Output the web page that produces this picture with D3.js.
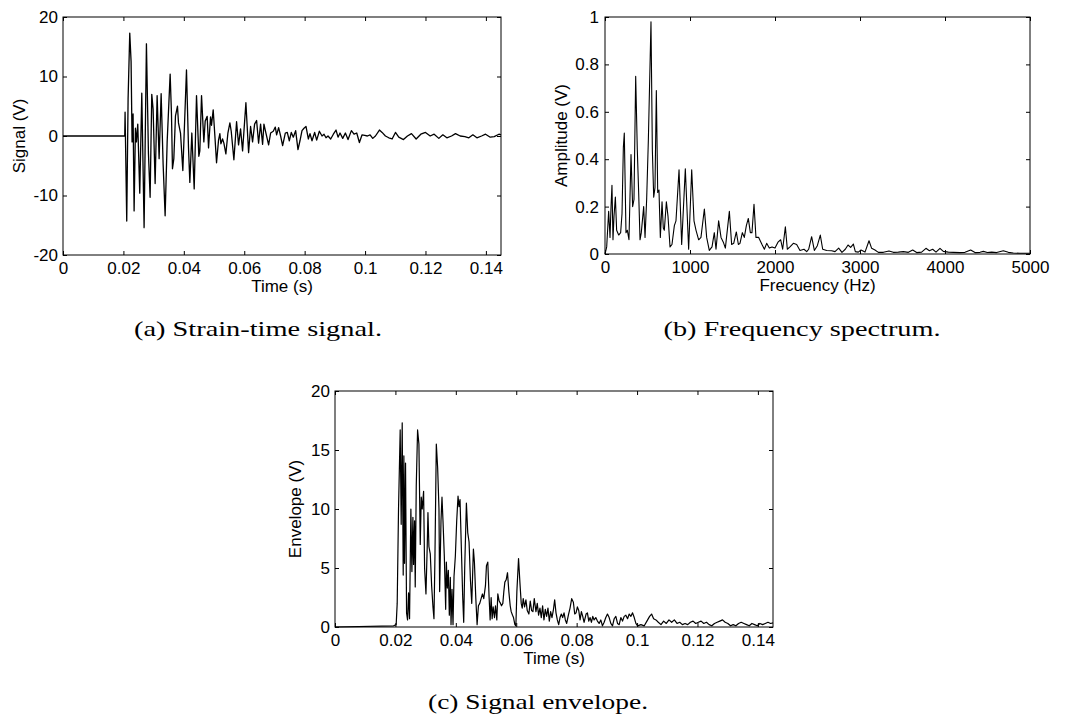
<!DOCTYPE html>
<html>
<head>
<meta charset="utf-8">
<script src="https://cdn.jsdelivr.net/npm/d3@7"></script>
<style>
  body { margin: 0; background: #fff; }
  svg { display: block; }
  .tick text { font-family: "Liberation Sans", Arial, sans-serif; font-size: 17px; fill: #000; }
  .tick line { stroke: #000; }
  .axis-label { font-family: "Liberation Sans", Arial, sans-serif; font-size: 17px; fill: #000; }
  .caption { font-family: "Liberation Serif", "DejaVu Serif", serif; font-size: 22px; fill: #000; }
</style>
</head>
<body>
<svg id="chart" width="1076" height="722"></svg>
<script>
// (a) strain-time signal, time in ms, volts
const sigTimeMs = [
  0, 20.44, 20.55, 21.10, 21.55, 22.10, 22.54, 22.87, 23.20, 23.54,
  23.98, 24.31, 24.75, 25.41, 26.08, 26.85, 27.62, 28.29, 28.84, 29.39,
  29.83, 30.50, 31.16, 31.82, 32.49, 33.15, 33.81, 34.48, 35.47, 35.91,
  36.24, 36.69, 37.24, 37.90, 38.23, 38.90, 39.67, 40.88, 41.55, 41.99,
  42.65, 43.43, 44.20, 44.97, 45.30, 45.86, 46.63, 47.07, 47.73, 48.18,
  48.84, 49.17, 49.72, 50.28, 50.83, 51.49, 51.93, 52.27, 52.82, 53.26,
  53.92, 54.59, 55.25, 55.69, 56.57, 57.46, 58.12, 58.78, 59.45, 60.55,
  61.44, 62.10, 62.76, 63.43, 64.09, 64.75, 65.41, 66.08, 66.52, 67.18,
  68.07, 68.73, 69.61, 70.28, 70.72, 71.38, 72.04, 72.71, 73.59, 74.25,
  74.92, 75.58, 76.24, 77.02, 77.79, 78.45, 79.12, 79.78, 80.44, 81.22,
  81.77, 82.43, 83.31, 83.98, 84.86, 85.75, 86.41, 87.07, 87.73, 88.62,
  89.50, 90.39, 91.05, 91.71, 92.60, 93.48, 94.36, 95.47, 96.35, 97.24,
  98.12, 99.01, 99.89, 100.77, 101.66, 102.54, 103.43, 104.75, 105.64, 106.74,
  107.85, 108.95, 110.06, 111.16, 112.71, 114.03, 115.36, 116.91, 118.45, 120.00,
  121.55, 122.87, 124.42, 125.75, 127.07, 128.62, 129.94, 131.49, 133.04, 134.36,
  135.69, 137.02, 138.56, 139.89, 141.44, 142.76, 144.31, 145.00
];
const sigVolts = [
  0, 0, 4.0, -14.3, 6.2, 17.3, 12.5, -1.0, 3.7, -12.6,
  1.3, -1.0, 2.0, -9.6, 7.2, -15.4, 15.5, -3.0, -10.3, 7.0,
  4.5, -8.0, 6.8, -3.8, 7.1, -4.8, -13.4, -1.0, 10.4, 3.7,
  -5.5, -3.8, 3.4, 5.0, 2.2, 0.5, -5.8, 11.1, -2.0, -7.8,
  0.5, -8.9, 6.8, -3.4, -2.5, 6.8, -1.0, 2.5, 3.3, -2.0,
  3.2, 1.8, 4.4, 0, -4.5, -0.7, 0.4, -1.3, -0.5, -1.2,
  -3.0, 0.5, 2.2, 0.8, -4.0, 2.4, -1.5, 1.2, -2.5, 5.6,
  -2.8, 1.6, -1.0, 2.0, 2.6, -1.2, 2.0, -1.4, 2.0, 0.5,
  -1.5, 0.5, 0.8, 1.5, 0.2, 1.4, 0, -1.6, 0.5, 0.6,
  -0.8, 0.6, -0.2, 0.9, -2.3, -0.8, 0.9, 1.3, 1.6, -0.5,
  0.4, -0.8, 0.6, -0.7, 0.8, 0, 0.3, -0.3, 0, -0.5,
  0.3, 1.0, -0.2, 0.5, -0.4, 0.5, -0.6, 0.9, 0.3, 0.5,
  -1.1, 0.2, 0.1, 0, 0.2, -0.4, 0, 1.0, 0.6, 0,
  -0.3, -0.5, 0.6, -0.2, -0.6, 0, 0.4, -0.5, 0.3, 0.6,
  0, 0.3, -0.4, 0.2, -0.3, 0, 0.4, 0, -0.1, -0.3,
  0.2, -0.3, 0, 0.3, -0.2, -0.1, 0.3, 0.2
];

// (b) frequency spectrum
const specHz = [
  0, 20, 43, 59, 71, 82, 94, 106, 122, 137,
  161, 184, 200, 216, 227, 247, 263, 282, 306, 325,
  341, 361, 380, 396, 412, 427, 455, 471, 490, 510,
  541, 557, 573, 588, 604, 620, 635, 651, 671, 686,
  698, 722, 741, 765, 788, 816, 835, 871, 902, 945,
  984, 1020, 1047, 1071, 1102, 1129, 1169, 1196, 1227, 1259,
  1286, 1306, 1337, 1365, 1392, 1416, 1463, 1490, 1514, 1545,
  1569, 1588, 1616, 1639, 1663, 1686, 1710, 1729, 1753, 1776,
  1808, 1847, 1875, 1902, 1933, 1965, 2000, 2035, 2067, 2090,
  2122, 2145, 2176, 2216, 2255, 2294, 2341, 2373, 2396, 2431,
  2463, 2498, 2533, 2561, 2608, 2667, 2706, 2749, 2788, 2827,
  2859, 2890, 2922, 2945, 2980, 3012, 3059, 3106, 3137, 3176,
  3216, 3275, 3341, 3392, 3451, 3510, 3569, 3620, 3667, 3725,
  3776, 3816, 3855, 3894, 3941, 3980, 4039, 4098, 4176, 4235,
  4302, 4353, 4412, 4451, 4498, 4549, 4608, 4686, 4745, 4804,
  4882, 5000
];
const specAmp = [
  0, 0.03, 0.18, 0.07, 0.20, 0.29, 0.06, 0.16, 0.24, 0.10,
  0.08, 0.09, 0.17, 0.45, 0.51, 0.09, 0.10, 0.06, 0.42, 0.20,
  0.23, 0.75, 0.44, 0.26, 0.06, 0.09, 0.20, 0.07, 0.23, 0.48,
  0.98, 0.44, 0.24, 0.28, 0.69, 0.26, 0.27, 0.07, 0.22, 0.11,
  0.10, 0.22, 0.16, 0.03, 0.04, 0.12, 0.14, 0.355, 0.04, 0.36,
  0.02, 0.355, 0.14, 0.10, 0.06, 0.07, 0.19, 0.07, 0.015, 0.03,
  0.09, 0.02, 0.14, 0.07, 0.05, 0.025, 0.18, 0.04, 0.045, 0.093,
  0.04, 0.045, 0.09, 0.07, 0.12, 0.15, 0.09, 0.09, 0.21, 0.07,
  0.07, 0.04, 0.02, 0.045, 0.025, 0.03, 0.025, 0.05, 0.06, 0.02,
  0.115, 0.02, 0.03, 0.045, 0.04, 0.015, 0.02, 0.01, 0.02, 0.073,
  0.015, 0.035, 0.08, 0.02, 0.015, 0.014, 0.01, 0.025, 0.007, 0.02,
  0.038, 0.028, 0.042, 0.01, 0.008, 0.017, 0.008, 0.056, 0.024, 0.017,
  0.007, 0.007, 0.013, 0.007, 0.008, 0.01, 0.007, 0.017, 0.006, 0.008,
  0.024, 0.014, 0.02, 0.008, 0.024, 0.011, 0.008, 0.007, 0.006, 0.007,
  0.017, 0.006, 0.007, 0.011, 0.006, 0.008, 0.006, 0.014, 0.007, 0.004,
  0.003, 0.003
];

// (c) signal envelope
const envTimeMs = [
  0, 19.4, 20.25, 20.59, 21.03, 21.58, 21.91, 22.25, 22.58, 22.80,
  23.02, 23.35, 23.69, 24.02, 24.35, 24.68, 25.12, 25.46, 25.79, 26.01,
  26.34, 26.56, 26.90, 27.34, 27.78, 28.22, 28.56, 28.89, 29.33, 29.66,
  30.11, 30.55, 30.77, 31.10, 31.54, 31.99, 32.43, 32.76, 33.09, 33.54,
  33.98, 34.42, 34.64, 35.09, 35.42, 35.75, 36.19, 36.64, 36.86, 37.19,
  37.52, 37.85, 38.18, 38.41, 38.74, 39.07, 39.40, 39.84, 40.29, 40.73,
  41.06, 41.39, 41.84, 42.28, 42.61, 42.94, 43.50, 43.94, 44.38, 44.83,
  45.27, 45.82, 46.15, 46.60, 47.04, 47.48, 47.92, 48.37, 48.81, 49.25,
  49.81, 50.14, 50.58, 51.02, 51.36, 51.69, 52.02, 52.35, 52.80, 53.13,
  53.57, 53.90, 54.34, 54.79, 55.12, 55.56, 55.89, 56.23, 56.67, 57.11,
  57.55, 58.00, 58.33, 58.77, 59.10, 59.55, 59.88, 60.21, 60.76, 61.21,
  61.65, 61.98, 62.31, 62.76, 63.20, 63.64, 64.19, 64.64, 65.08, 65.52,
  65.97, 66.52, 66.96, 67.40, 67.85, 68.29, 68.73, 69.17, 69.62, 70.06,
  70.50, 70.95, 71.39, 71.83, 72.27, 72.72, 73.16, 73.60, 74.05, 74.49,
  74.93, 75.37, 75.82, 76.26, 76.70, 77.26, 77.81, 78.36, 78.91, 79.36,
  79.80, 80.24, 80.69, 81.13, 81.57, 82.01, 82.46, 83.12, 83.56, 84.01,
  84.45, 84.89, 85.33, 85.78, 86.33, 86.88, 87.44, 87.99, 88.54, 89.10,
  89.65, 90.20, 90.76, 91.31, 91.87, 92.42, 92.97, 93.53, 94.08, 94.63,
  95.19, 95.74, 96.29, 96.85, 97.40, 97.95, 98.51, 99.06, 99.61, 100.17,
  101.27, 102.38, 103.26, 104.15, 104.81, 105.48, 106.25, 107.03, 107.91, 108.80,
  109.68, 110.57, 111.45, 112.34, 113.23, 114.11, 115.00, 115.88, 116.77, 117.65,
  118.54, 119.42, 120.31, 121.19, 122.08, 122.97, 123.85, 124.74, 125.62, 126.51,
  127.39, 128.28, 129.16, 130.05, 130.94, 131.82, 132.71, 133.59, 134.48, 135.36,
  136.25, 137.13, 138.02, 138.90, 139.79, 140.67, 141.56, 142.44, 143.33, 144.22,
  145.00
];
const envVolts = [
  0, 0.1, 0.2, 2, 10, 16.7, 8.7, 17.3, 4.4, 14.5,
  5.4, 13.9, 1.2, 0.6, 2.9, 0.7, 10, 4.7, 9.3, 5.3,
  9, 3.4, 12, 16.7, 15.5, 7, 11, 10, 11.5, 5,
  2.8, 7, 9.7, 6.8, 6.2, 3.5, 1.7, 0.7, 6, 15.5,
  13.5, 10, 3, 9, 11, 9, 6, 1.5, 5.5, 3.3,
  4.8, 1, 4.2, 0.2, 3.2, 0.2, 4.3, 6, 9, 11.1,
  10.2, 10.8, 6.6, 2.5, 0.4, 5, 10.5, 8, 7.2, 4,
  2, 6.6, 5.5, 2.5, 0.2, 1.8, 2, 2.4, 2.8, 2.4,
  3.5, 5.2, 5.5, 2.5, 0.6, 2.5, 0.7, 1.7, 0.8, 1.8,
  0.6, 2.8, 2.2, 2, 1.8, 2, 3, 3.8, 4, 4.6,
  3, 1.8, 1.3, 1, 0.8, 0.2, 0.1, 3, 5.8, 3.8,
  2, 1.6, 2.4, 1.7, 2.3, 1.4, 1.1, 2.2, 1.4, 1.3,
  2.4, 1.3, 2, 1, 1.6, 0.8, 1.8, 0.6, 1.5, 0.9,
  1.6, 0.5, 1.3, 0.8, 1.4, 2.3, 1.2, 0.6, 0.2, 0.8,
  1.1, 0.8, 1.2, 0.6, 0.3, 1, 1.6, 2.4, 2.1, 1.1,
  1.2, 1.7, 1.4, 0.6, 1.3, 0.9, 0.4, 1.1, 1.2, 0.5,
  0.8, 0.4, 0.9, 0.6, 0.8, 0.5, 0.3, 0.6, 0.1, 0.4,
  0.8, 1.1, 0.8, 0.3, 0.1, 0.7, 0.9, 0.3, 0.2, 0.8,
  0.5, 0.9, 1.0, 0.7, 1.1, 0.9, 1.2, 0.8, 0.3, 0.1,
  0.2, 0.1, 0.5, 0.9, 1.1, 0.7, 0.6, 0.4, 0.2, 0.5,
  0.3, 0.6, 0.4, 0.6, 0.3, 0.4, 0.2, 0.3, 0.2, 0.4,
  0.5, 0.3, 0.4, 0.5, 0.3, 0.4, 0.2, 0.1, 0.3, 0.4,
  0.5, 0.6, 0.4, 0.3, 0.1, 0.2, 0.1, 0.3, 0.4, 0.3,
  0.2, 0.1, 0.3, 0.2, 0.1, 0.3, 0.2, 0.3, 0.4, 0.3,
  0.35
];

// ticks
const timeTicks = [0, 0.02, 0.04, 0.06, 0.08, 0.1, 0.12, 0.14];
const signalTicks = [-20, -10, 0, 10, 20];
const freqTicks = [0, 1000, 2000, 3000, 4000, 5000];
const ampTicks = [0, 0.2, 0.4, 0.6, 0.8, 1];
const envTicks = [0, 5, 10, 15, 20];

function pairs(xs, ys, xk) {
  if (xs.length !== ys.length) throw new Error('length mismatch ' + xs.length + ' vs ' + ys.length);
  return xs.map((d, i) => [d * xk, ys[i]]);
}

const svg = d3.select('#chart');

function panel(cfg) {
  const { left, top, width, height } = cfg.box;
  const x = d3.scaleLinear().domain(cfg.xDomain).range([0, width]);
  const y = d3.scaleLinear().domain(cfg.yDomain).range([height, 0]);

  const g = svg.append('g')
      .attr('transform', `translate(${left},${top})`);

  const tick = 4;

  g.append('g')
      .attr('transform', `translate(0,${height})`)
      .call(d3.axisBottom(x).tickValues(cfg.xTicks).tickFormat(String)
        .tickSizeInner(-tick).tickSizeOuter(0).tickPadding(7))
      .call(a => a.select('.domain').remove());

  g.append('g')
      .call(d3.axisTop(x).tickValues(cfg.xTicks).tickFormat('')
        .tickSizeInner(-tick).tickSizeOuter(0))
      .call(a => a.select('.domain').remove());

  g.append('g')
      .call(d3.axisLeft(y).tickValues(cfg.yTicks).tickFormat(String)
        .tickSizeInner(-tick).tickSizeOuter(0).tickPadding(cfg.yPad))
      .call(a => a.select('.domain').remove());

  g.append('g')
      .attr('transform', `translate(${width},0)`)
      .call(d3.axisRight(y).tickValues(cfg.yTicks).tickFormat('')
        .tickSizeInner(-tick).tickSizeOuter(0))
      .call(a => a.select('.domain').remove());

  g.append('path')
      .datum(cfg.data)
      .attr('fill', 'none')
      .attr('stroke', '#000')
      .attr('stroke-width', cfg.lineWidth)
      .attr('stroke-linejoin', 'round')
      .attr('d', d3.line().x(d => x(d[0])).y(d => y(d[1])));

  g.append('rect')
      .attr('width', width)
      .attr('height', height)
      .attr('fill', 'none')
      .attr('stroke', '#000')
      .attr('stroke-width', 1);

  g.append('text')
      .attr('class', 'axis-label')
      .attr('x', width / 2)
      .attr('y', height + 37)
      .attr('text-anchor', 'middle')
      .text(cfg.xLabel);

  g.append('text')
      .attr('class', 'axis-label')
      .attr('transform', `translate(${cfg.yLabelX},${height / 2}) rotate(-90)`)
      .attr('text-anchor', 'middle')
      .text(cfg.yLabel);

  svg.append('text')
      .attr('class', 'caption')
      .attr('x', cfg.caption.x)
      .attr('y', cfg.caption.y)
      .attr('text-anchor', 'middle')
      .attr('textLength', cfg.caption.w)
      .attr('lengthAdjust', 'spacingAndGlyphs')
      .text(cfg.caption.text);
}

panel({
  box: { left: 63, top: 17, width: 438, height: 238 },
  xDomain: [0, 0.145], yDomain: [-20, 20],
  xTicks: timeTicks, yTicks: signalTicks, yPad: 5,
  data: pairs(sigTimeMs, sigVolts, 0.001),
  lineWidth: 1.3,
  xLabel: 'Time (s)', yLabel: 'Signal (V)', yLabelX: -38,
  caption: { x: 258, y: 336, w: 248, text: '(a) Strain-time signal.' }
});

panel({
  box: { left: 605, top: 17, width: 425, height: 237 },
  xDomain: [0, 5000], yDomain: [0, 1],
  xTicks: freqTicks, yTicks: ampTicks, yPad: 6,
  data: pairs(specHz, specAmp, 1),
  lineWidth: 1.1,
  xLabel: 'Frecuency (Hz)', yLabel: 'Amplitude (V)', yLabelX: -38,
  caption: { x: 802, y: 336, w: 277, text: '(b) Frequency spectrum.' }
});

panel({
  box: { left: 335, top: 391, width: 438, height: 236 },
  xDomain: [0, 0.145], yDomain: [0, 20],
  xTicks: timeTicks, yTicks: envTicks, yPad: 5,
  data: pairs(envTimeMs, envVolts, 0.001),
  lineWidth: 1.2,
  xLabel: 'Time (s)', yLabel: 'Envelope (V)', yLabelX: -34,
  caption: { x: 538, y: 709, w: 220, text: '(c) Signal envelope.' }
});
</script>
</body>
</html>
